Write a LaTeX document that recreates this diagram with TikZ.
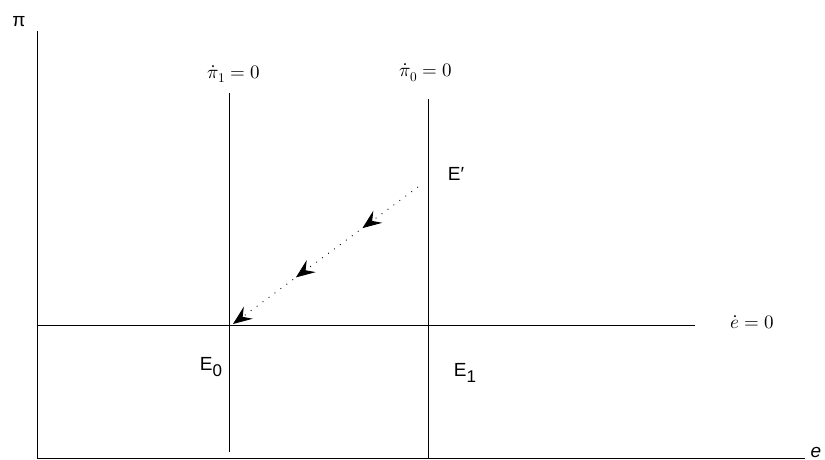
\documentclass[tikz,border=0pt]{standalone}
\usepackage{fontspec}
\usepackage{unicode-math}
\setmainfont{Liberation Sans}
\setmathfont{Latin Modern Math}
\usetikzlibrary{arrows.meta,decorations.markings}

\tikzset{
  axisline/.style={line width=0.8pt},
  lbl/.style={font=\fontsize{19}{22}\selectfont, inner sep=0pt},
  mathlbl/.style={font=\fontsize{19}{22}\selectfont, inner sep=0pt},
  path/.style={dash pattern=on 0.9pt off 6.5pt, line width=0.9pt,
    decoration={markings,
      mark=at position 0.30 with {\arrow{Stealth[length=19pt,width=15pt,inset=7pt]}},
      mark=at position 0.66 with {\arrow{Stealth[length=19pt,width=15pt,inset=7pt]}}},
    postaction={decorate}}
}
\newcommand{\lowsub}[1]{\raisebox{-6pt}{\fontsize{17}{20}\selectfont #1}}

\begin{document}
\begin{tikzpicture}[x=1pt,y=-1pt]
            \useasboundingbox (0,0) rectangle (825,460);
            % axes
            \coordinate (o) at (37,458);
            \coordinate (ytop) at (37,31);
            \coordinate (xend) at (805,458);
            \draw[axisline] (ytop) -- (o) -- (xend);
            \node[lbl] (pi) at (19,22) {π};
            \node[lbl] (e) at (816,452) {\itshape e};
            % loci
            \coordinate (hl) at (37,325);
            \coordinate (hr) at (695,325);
            \draw[axisline] (hl) -- (hr);
            \node[mathlbl] (edot) at (752,322) {$\dot e = 0$};
            \coordinate (v1t) at (229,93);
            \coordinate (v1b) at (229,452);
            \draw[axisline] (v1t) -- (v1b);
            \node[mathlbl] (pidot1) at (234,74) {$\dot\pi_1 = 0$};
            \coordinate (v0t) at (428,99);
            \coordinate (v0b) at (428,458);
            \draw[axisline] (v0t) -- (v0b);
            \node[mathlbl] (pidot0) at (426,73) {$\dot\pi_0 = 0$};
            % equilibria
            \node[lbl] (eprime) at (456,174) {E′};
            \node[lbl] (e0) at (211,367) {E\lowsub{0}};
            \node[lbl] (e1) at (465,373) {E\lowsub{1}};
            \coordinate (start) at (418,187);
            \coordinate (stop) at (233,324);
            \draw[path, -{Stealth[length=19pt,width=15pt,inset=7pt]}] (start) -- (stop);
        \end{tikzpicture}
\end{document}
